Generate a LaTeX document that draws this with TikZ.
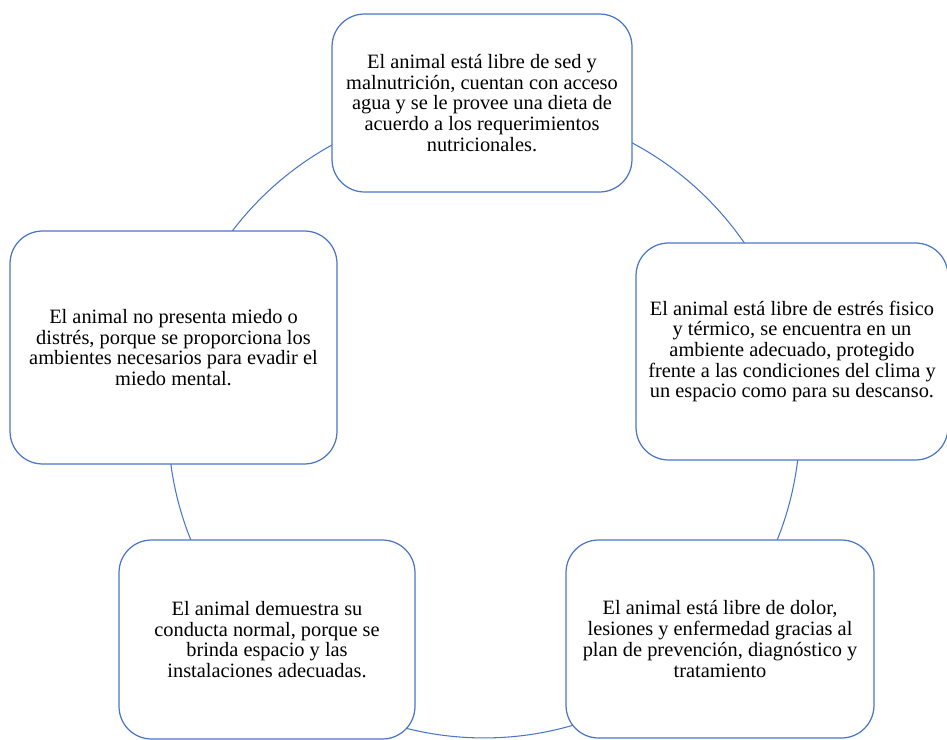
\documentclass[tikz,border=0pt]{standalone}
\usepackage{fontspec}
\setmainfont{Liberation Serif}
\usepackage{tikz}
\definecolor{azul}{HTML}{4A76C9}
\newcommand{\txt}{\fontsize{11.6}{11.8}\selectfont}
\tikzstyle{caja}=[draw=azul,fill=white,line width=0.7pt,rounded corners=0.65cm,align=center,inner sep=0pt,font=\txt]
\tikzstyle{anillo}=[draw=azul,line width=0.6pt,circle,inner sep=0pt]

\begin{document}
\begin{tikzpicture}[x=0.02cm,y=-0.02cm]
    \useasboundingbox (0,0) rectangle (947,740);
    \node [anillo,minimum size=12.64cm] (ciclo) at (484,422) {};
    \node [caja,minimum width=6cm,minimum height=3.56cm] (sed) at (482,103)
      {El animal está libre de sed y\\ malnutrición, cuentan con acceso\\ agua y se le provee una dieta de\\ acuerdo a los requerimientos\\ nutricionales.};
    \node [caja,minimum width=6.24cm,minimum height=4.34cm] (estres) at (792,351.5)
      {El animal está libre de estrés fisico\\ y térmico, se encuentra en un\\ ambiente adecuado, protegido\\ frente a las condiciones del clima y\\ un espacio como para su descanso.};
    \node [caja,minimum width=6.16cm,minimum height=3.96cm] (dolor) at (720,639)
      {El animal está libre de dolor,\\ lesiones y enfermedad gracias al\\ plan de prevención, diagnóstico y\\ tratamiento};
    \node [caja,minimum width=5.92cm,minimum height=3.98cm] (conducta) at (267,639.5)
      {El animal demuestra su\\ conducta normal, porque se\\ brinda espacio y las\\ instalaciones adecuadas.};
    \node [caja,minimum width=6.54cm,minimum height=4.66cm] (miedo) at (173.5,347.5)
      {El animal no presenta miedo o\\ distrés, porque se proporciona los\\ ambientes necesarios para evadir el\\ miedo mental.};
  \end{tikzpicture}
\end{document}
